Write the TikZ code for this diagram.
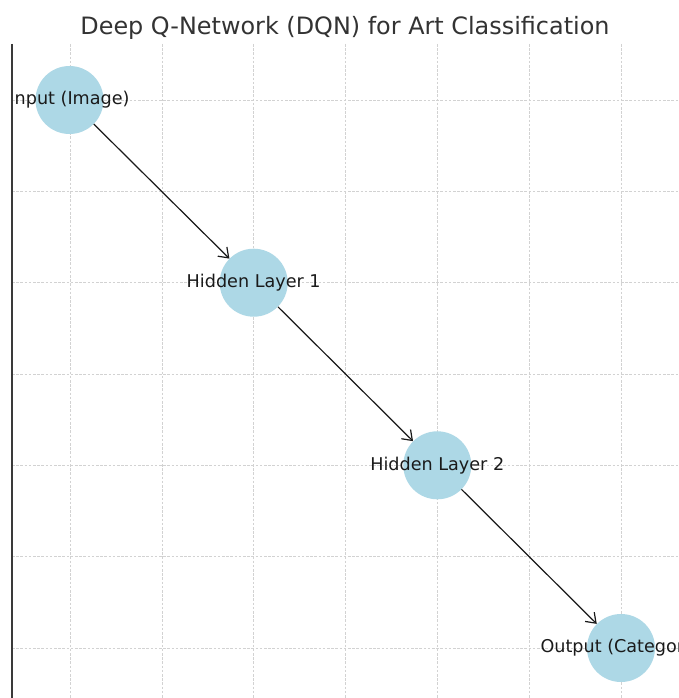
\documentclass[tikz,border=0pt]{standalone}
\usepackage{fontspec}
\setmainfont{DejaVu Sans}
\usetikzlibrary{arrows.meta}
\definecolor{nodeblue}{HTML}{ADD8E6}
\definecolor{gridgray}{HTML}{D2D2D2}
\definecolor{titlegray}{HTML}{333333}
\definecolor{spinegray}{HTML}{3A3A3A}
\definecolor{labelink}{HTML}{1A1A1A}
\tikzset{
  gridline/.style={gridgray, line width=0.6pt, dash pattern=on 2.6pt off 1.6pt},
  spine/.style={spinegray, line width=1.3pt},
  layer/.style={circle, fill=nodeblue, draw=none, inner sep=0pt, minimum size=68pt},
  layertext/.style={text=labelink, font=\fontsize{17.6}{20}\selectfont, inner sep=0pt},
  flow/.style={black!90, line width=1.2pt, -{Straight Barb[length=9pt, width=13pt, line width=1.2pt]}},
  titletext/.style={text=titlegray, font=\fontsize{23.9}{28}\selectfont, inner sep=0pt}
}
\begin{document}
\begin{tikzpicture}[x=1pt, y=-1pt]
  \useasboundingbox (0,0) rectangle (678,698);
  \fill[white] (0,0) rectangle (678,698);

  % title
  \node[titletext, anchor=base] (title) at (345,35) {Deep Q-Network (DQN) for Art Classification};

  \begin{scope}
    \clip (12.6,44) rectangle (678,698);
    % dashed grid
    \foreach \gx in {70,161.8,253.7,345.5,437.3,529.2,621}
      \draw[gridline] (\gx,44) -- (\gx,698);
    \foreach \gy in {100,191.3,282.7,374,465.3,556.7,648}
      \draw[gridline] (12,\gy) -- (678,\gy);

    % layers
    \node[layer] (in) at (69.5,100) {};
    \node[layer] (h1) at (253.7,282.7) {};
    \node[layer] (h2) at (437.3,465.3) {};
    \node[layer] (out) at (621,648) {};

    % connections
    \draw[flow] (in) -- (h1);
    \draw[flow] (h1) -- (h2);
    \draw[flow] (h2) -- (out);

    % layer names
    \node[layertext] (inlbl) at (in.center) {Input (Image)};
    \node[layertext] (h1lbl) at (h1.center) {Hidden Layer 1};
    \node[layertext] (h2lbl) at (h2.center) {Hidden Layer 2};
    \node[layertext] (outlbl) at (out.center) {Output (Category)};
  \end{scope}

  % left spine
  \coordinate (spinetop) at (12,44);
  \coordinate (spinebot) at (12,698);
  \draw[spine] (spinetop) -- (spinebot);
\end{tikzpicture}
\end{document}
